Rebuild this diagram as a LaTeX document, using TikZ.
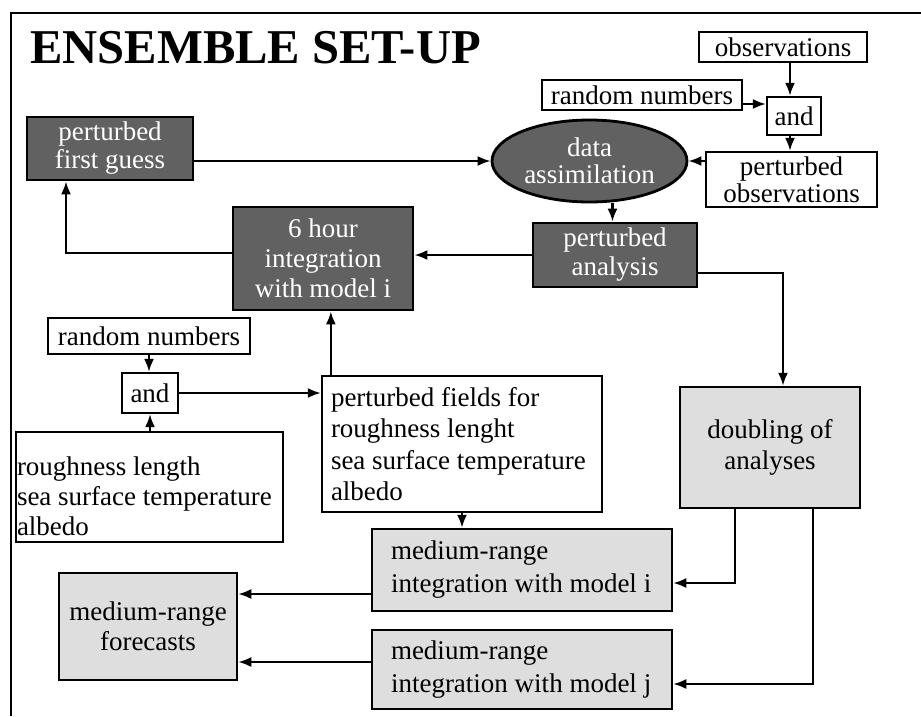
\documentclass[tikz,border=0pt]{standalone}
\usepackage{fontspec}
\setmainfont{Liberation Serif}
\usetikzlibrary{arrows.meta,shapes.geometric}
\begin{document}
\begin{tikzpicture}[x=1pt,y=-1pt,
  txt/.style={font=\fontsize{27}{30}\selectfont},
  wbox/.style={draw, line width=2.3pt, fill=white, inner sep=0pt, txt, align=center},
  dbox/.style={draw, line width=2.8pt, fill=black!62, text=white, inner sep=0pt, txt, align=center},
  lbox/.style={draw, line width=2.5pt, fill=black!13, inner sep=0pt, txt, align=center},
  lefttext/.style={align=left, execute at begin node={\hyphenpenalty=10000\exhyphenpenalty=10000\spaceskip=0.25em plus 0.5em}},
  arr/.style={line width=2.2pt, -{Latex[length=13pt,width=10pt]}},
  ln/.style={line width=2.2pt}]
\useasboundingbox (0,0) rectangle (921,716);
% frame
\draw[line width=2.3pt] (921,13) -- (11,13) -- (11,716);
\node[font=\bfseries\fontsize{48.6}{50}\selectfont, anchor=base west, inner sep=0pt] (title) at (30,63) {ENSEMBLE SET-UP};
% nodes
\node[wbox, minimum width=168pt, minimum height=30pt] (obs) at (783,47) {observations};
\node[wbox, minimum width=200pt, minimum height=30pt] (rn1) at (642,95) {random numbers};
\node[wbox, minimum width=54pt, minimum height=38pt] (and1) at (794,116) {and};
\node[wbox, minimum width=171pt, minimum height=55pt, font=\fontsize{27}{27}\selectfont] (pobs) at (791.5,179.5) {perturbed\\observations};
\node[ellipse, draw, line width=2.8pt, fill=black!62, text=white, inner sep=0pt, minimum width=195pt, minimum height=82pt, txt, align=center, font=\fontsize{27}{27}\selectfont] (da) at (589.5,161) {data\\assimilation};
\node[dbox, minimum width=166pt, minimum height=63pt, font=\fontsize{27}{28}\selectfont] (pfg) at (110,148.5) {perturbed\\first guess};
\node[dbox, minimum width=164pt, minimum height=64pt, font=\fontsize{27}{29}\selectfont] (pa) at (615,255) {perturbed\\analysis};
\node[dbox, minimum width=180pt, minimum height=103pt] (six) at (323,258.5) {6 hour\\integration\\with model i};
\node[wbox, minimum width=202pt, minimum height=36pt] (rn2) at (149,336) {random numbers};
\node[wbox, minimum width=56pt, minimum height=40pt] (and2) at (150,393) {and};
\node[wbox, lefttext, inner xsep=9pt, text width=262pt, minimum height=136pt, font=\fontsize{27}{31.5}\selectfont] (pf) at (462,444) {perturbed fields for\\roughness lenght\\sea surface temperature\\albedo};
\node[wbox, lefttext, inner xsep=1pt, text width=265pt, minimum height=110pt] (rough) at (149.5,487) {\rule{0pt}{37pt}roughness length\\sea surface temperature\\albedo};
\node[lbox, minimum width=180pt, minimum height=121pt, font=\fontsize{27}{31}\selectfont] (dbl) at (770,447.5) {doubling of\\analyses};
\node[lbox, lefttext, inner xsep=19pt, text width=262pt, minimum height=82pt, font=\fontsize{27}{33}\selectfont] (mi) at (522,570) {medium-range\\integration with model i};
\node[lbox, lefttext, inner xsep=19pt, text width=262pt, minimum height=79pt, font=\fontsize{27}{33}\selectfont] (mj) at (522,669.5) {medium-range\\integration with model j};
\node[lbox, minimum width=178pt, minimum height=107pt] (mf) at (148,626.5) {medium-range\\forecasts};
% connectors
\draw[arr] ([xshift=7pt]obs.south) -- ([xshift=7pt]obs.south |- and1.north);
\draw[arr] ([yshift=-9pt]rn1.east) -- ([yshift=-9pt]rn1.east -| and1.west);
\draw[arr] ([xshift=-4pt]and1.south) -- ([xshift=-4pt]and1.south |- pobs.north);
\draw[arr] (pobs.west |- da.east) -- (da.east);
\draw[arr] (pfg.east |- da.west) -- (da.west);
\draw[arr] ([xshift=23pt]da.south) -- ([xshift=23pt]da.south |- pa.north);
\draw[arr] (pa.west) -- (pa.west -| six.east);
\draw[arr] ([yshift=-18pt]pa.east) -| ([xshift=13pt]dbl.north);
\draw[arr] ([yshift=5.5pt]six.west) -| ([xshift=-44pt]pfg.south);
\draw[arr] (rn2.south) -- (rn2.south |- and2.north);
\draw[arr] (and2.south |- rough.north) -- (and2.south);
\draw[arr] (and2.east) -- (and2.east -| pf.west);
\draw[arr] ([xshift=10pt]pf.north west) -- ([xshift=10pt]pf.north west |- six.south);
\draw[arr] (pf.south) -- (pf.south |- mi.north);
\draw[arr] ([xshift=-35pt]dbl.south) |- ([yshift=-13pt]mi.east);
\draw[arr] ([xshift=43pt]dbl.south) |- ([yshift=-14.5pt]mj.east);
\draw[arr] ([yshift=-24pt]mi.west) -- ([yshift=-24pt]mi.west -| mf.east);
\draw[arr] ([yshift=7.5pt]mj.west) -- ([yshift=7.5pt]mj.west -| mf.east);
\end{tikzpicture}
\end{document}
